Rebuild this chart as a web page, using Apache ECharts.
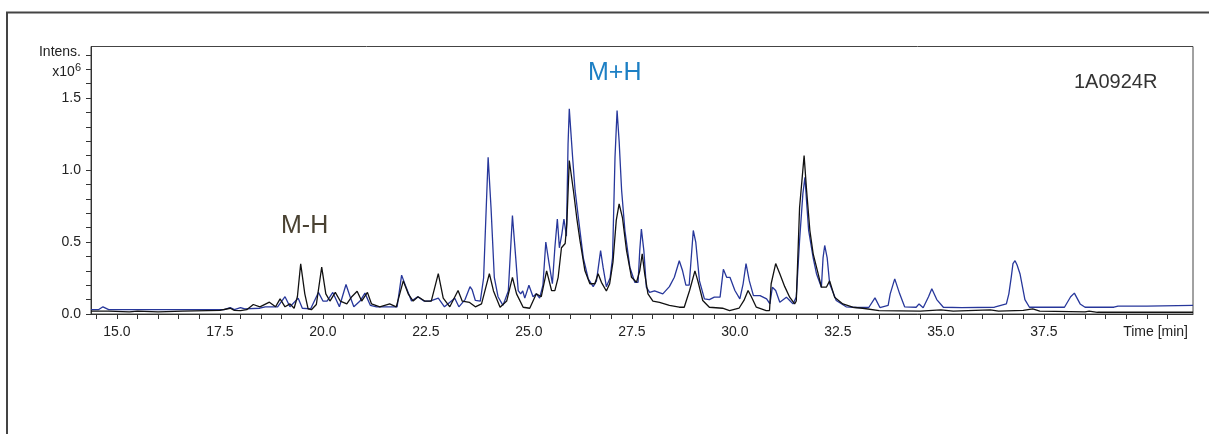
<!DOCTYPE html>
<html lang="en">
<head>
<meta charset="UTF-8">
<title>1A0924R</title>
<script src="https://cdn.jsdelivr.net/npm/echarts@6/dist/echarts.min.js"></script>
<style>
html, body { margin: 0; padding: 0; background: #fff; }
#main { width: 1209px; height: 434px; }
</style>
</head>
<body>
<div id="main"></div>
<script>
// M+H trace (blue): [time min, intensity x10^6]
var mphTrace = [
	[14.37,0.03],[14.55,0.03],[14.66,0.05],[14.8,0.03],[15.5,0.03],[16.5,0.03],[17.6,0.03],[17.75,0.045],
	[17.85,0.03],[18.0,0.045],[18.1,0.035],[18.47,0.04],[18.6,0.05],[18.9,0.05],[19.08,0.12],[19.2,0.05],
	[19.4,0.11],[19.5,0.04],[19.7,0.035],[19.89,0.15],[20.0,0.09],[20.1,0.09],[20.24,0.15],[20.4,0.05],
	[20.56,0.205],[20.66,0.12],[20.75,0.05],[20.9,0.09],[21.02,0.145],[21.15,0.06],[21.3,0.05],[21.6,0.05],
	[21.8,0.05],[21.91,0.27],[22.0,0.2],[22.15,0.09],[22.3,0.12],[22.45,0.09],[22.6,0.09],[22.8,0.11],
	[22.95,0.05],[23.2,0.11],[23.3,0.05],[23.45,0.1],[23.57,0.19],[23.62,0.17],[23.7,0.094],[23.82,0.09],
	[23.9,0.25],[24.01,1.089],[24.08,0.74],[24.16,0.255],[24.25,0.12],[24.37,0.06],[24.5,0.16],[24.6,0.684],
	[24.68,0.39],[24.74,0.163],[24.8,0.14],[24.85,0.16],[24.9,0.11],[25.0,0.2],[25.1,0.12],[25.18,0.14],
	[25.26,0.11],[25.34,0.2],[25.41,0.5],[25.49,0.35],[25.57,0.21],[25.63,0.46],[25.69,0.66],[25.74,0.46],
	[25.8,0.557],[25.85,0.66],[25.91,0.54],[25.95,1.18],[25.98,1.425],[26.01,1.437],[26.06,1.09],[26.12,0.86],
	[26.2,0.67],[26.32,0.39],[26.44,0.245],[26.56,0.19],[26.64,0.23],[26.74,0.44],[26.8,0.325],[26.88,0.19],
	[26.97,0.25],[27.03,0.39],[27.09,1.09],[27.14,1.413],[27.19,1.2],[27.25,0.86],[27.33,0.58],[27.45,0.325],
	[27.57,0.22],[27.65,0.22],[27.69,0.44],[27.73,0.59],[27.79,0.44],[27.85,0.186],[27.93,0.15],[28.05,0.16],
	[28.25,0.14],[28.41,0.19],[28.53,0.255],[28.65,0.37],[28.73,0.3],[28.81,0.2],[28.89,0.2],[28.99,0.58],
	[29.05,0.5],[29.14,0.23],[29.26,0.105],[29.38,0.1],[29.5,0.117],[29.64,0.117],[29.72,0.31],[29.8,0.255],
	[29.88,0.255],[30.0,0.163],[30.12,0.105],[30.2,0.21],[30.27,0.35],[30.35,0.23],[30.45,0.128],[30.61,0.128],
	[30.77,0.105],[30.85,0.07],[30.91,0.186],[30.99,0.163],[31.09,0.082],[31.25,0.117],[31.33,0.094],[31.41,0.07],
	[31.49,0.117],[31.57,0.51],[31.65,0.835],[31.7,0.95],[31.75,0.74],[31.79,0.58],[31.83,0.58],[31.9,0.39],
	[31.98,0.28],[32.1,0.186],[32.14,0.39],[32.18,0.476],[32.24,0.39],[32.3,0.21],[32.46,0.094],[32.7,0.05],
	[32.95,0.045],[33.25,0.045],[33.4,0.112],[33.52,0.045],[33.72,0.06],[33.77,0.14],[33.88,0.244],[34.0,0.14],
	[34.12,0.05],[34.4,0.047],[34.47,0.07],[34.57,0.044],[34.7,0.12],[34.78,0.175],[34.9,0.1],[35.06,0.047],
	[35.5,0.044],[36.3,0.047],[36.59,0.07],[36.65,0.14],[36.71,0.26],[36.75,0.35],[36.8,0.37],[36.85,0.34],
	[36.92,0.28],[37.04,0.1],[37.15,0.047],[38.0,0.047],[38.15,0.12],[38.24,0.145],[38.38,0.07],[38.5,0.047],
	[39.2,0.047],[39.3,0.055],[40.0,0.055],[41.12,0.06]
];

// M-H trace (black)
var mmhTrace = [
	[14.37,0.02],[14.8,0.02],[15.3,0.015],[15.5,0.02],[16.0,0.015],[16.6,0.02],[17.5,0.025],[17.75,0.04],
	[17.85,0.025],[18.0,0.024],[18.15,0.03],[18.31,0.066],[18.47,0.05],[18.7,0.082],[18.85,0.05],[18.96,0.105],
	[19.08,0.05],[19.2,0.07],[19.3,0.04],[19.38,0.12],[19.46,0.349],[19.56,0.14],[19.64,0.036],[19.72,0.03],
	[19.84,0.066],[19.97,0.325],[20.07,0.14],[20.17,0.09],[20.3,0.15],[20.42,0.09],[20.58,0.07],[20.7,0.12],
	[20.83,0.158],[20.94,0.09],[21.08,0.15],[21.18,0.07],[21.38,0.05],[21.62,0.07],[21.78,0.05],[21.95,0.23],
	[22.07,0.14],[22.19,0.09],[22.31,0.12],[22.47,0.09],[22.63,0.09],[22.8,0.28],[22.92,0.11],[23.08,0.05],
	[23.28,0.163],[23.38,0.09],[23.56,0.08],[23.7,0.05],[23.85,0.07],[24.04,0.28],[24.14,0.16],[24.3,0.047],
	[24.46,0.09],[24.6,0.255],[24.7,0.14],[24.86,0.047],[25.02,0.04],[25.18,0.14],[25.3,0.12],[25.43,0.3],
	[25.55,0.163],[25.63,0.163],[25.71,0.255],[25.79,0.46],[25.88,0.49],[25.92,0.626],[25.98,1.066],[26.0,1.078],
	[26.08,0.858],[26.16,0.67],[26.24,0.51],[26.36,0.3],[26.48,0.21],[26.6,0.21],[26.68,0.28],[26.76,0.22],
	[26.88,0.16],[26.96,0.21],[27.04,0.36],[27.12,0.65],[27.19,0.765],[27.27,0.67],[27.37,0.44],[27.49,0.255],
	[27.61,0.22],[27.69,0.3],[27.75,0.418],[27.81,0.28],[27.89,0.14],[28.01,0.09],[28.17,0.08],[28.41,0.06],
	[28.65,0.047],[28.77,0.047],[28.9,0.163],[29.03,0.3],[29.1,0.23],[29.22,0.094],[29.38,0.047],[29.7,0.04],
	[29.87,0.024],[30.1,0.04],[30.22,0.094],[30.32,0.163],[30.4,0.12],[30.52,0.047],[30.76,0.024],[30.84,0.024],
	[30.88,0.21],[30.99,0.35],[31.09,0.28],[31.21,0.19],[31.33,0.117],[31.45,0.07],[31.49,0.09],[31.57,0.74],
	[31.68,1.1],[31.74,0.86],[31.82,0.58],[31.9,0.418],[32.02,0.28],[32.1,0.186],[32.22,0.186],[32.3,0.23],
	[32.42,0.117],[32.62,0.07],[32.86,0.047],[33.1,0.04],[33.5,0.024],[34.5,0.02],[35.0,0.028],[35.3,0.02],
	[36.2,0.028],[36.4,0.02],[37.0,0.025],[37.23,0.035],[37.4,0.02],[38.5,0.015],[38.6,0.02],[38.8,0.012],
	[41.12,0.012]
];

// axis ticks and labels
var timeLabels = [15.0, 17.5, 20.0, 22.5, 25.0, 27.5, 30.0, 32.5, 35.0, 37.5];
var timeTicks = [];
for (var t = 14.5; t <= 40.5; t += 0.5) timeTicks.push(t);
var intensTicks = [0.0, 0.1, 0.2, 0.3, 0.4, 0.5, 0.6, 0.7, 0.8, 0.9, 1.0, 1.1, 1.2, 1.3, 1.4, 1.5, 1.6, 1.7, 1.8];
// 1.75 carries the two-line unit caption that sits against the 1.8 / 1.7 ticks
var intensLabels = [0.0, 0.5, 1.0, 1.5, 1.75];

var FONT = '"Liberation Sans", Arial, sans-serif';

var chart = echarts.init(document.getElementById('main'));
chart.setOption({
	animation: false,
	grid: {
		left: 91, right: 16, top: 46.5, bottom: 120,
		show: true, borderColor: '#444', borderWidth: 1
	},
	xAxis: {
		type: 'value',
		min: 14.37,
		max: 41.12,
		axisLine: { lineStyle: { color: '#333', width: 1 } },
		axisTick: { customValues: timeTicks, length: 5, lineStyle: { color: '#333' } },
		axisLabel: {
			customValues: timeLabels,
			margin: 11,
			color: '#222',
			fontSize: 14,
			fontFamily: FONT,
			formatter: function (v) { return v.toFixed(1); }
		},
		splitLine: { show: false }
	},
	yAxis: {
		type: 'value',
		min: 0,
		max: 1.858,
		axisLine: { show: true, lineStyle: { color: '#333', width: 1 } },
		axisTick: { show: true, customValues: intensTicks, length: 5, lineStyle: { color: '#333' } },
		axisLabel: {
			customValues: intensLabels,
			hideOverlap: false,
			showMinLabel: true,
			showMaxLabel: true,
			margin: 10,
			color: '#222',
			fontSize: 14,
			fontFamily: FONT,
			formatter: function (v) {
				if (Math.abs(v - 1.75) < 1e-6) return '{n|Intens.}\n{n|x10}{s|6}';
				return v.toFixed(1);
			},
			rich: {
				n: { fontSize: 14, fontFamily: FONT, color: '#222', lineHeight: 20, align: 'right' },
				s: { fontSize: 11, fontFamily: FONT, color: '#222', lineHeight: 4, padding: [0, 0, 8, 0] }
			}
		},
		splitLine: { show: false }
	},
	series: [
		{
			name: 'M+H',
			type: 'line',
			data: mphTrace,
			showSymbol: false,
			lineStyle: { color: '#27379b', width: 1.3 },
			z: 2
		},
		{
			name: 'M-H',
			type: 'line',
			data: mmhTrace,
			showSymbol: false,
			lineStyle: { color: '#111', width: 1.3 },
			z: 3
		}
	],
	graphic: [
		{
			type: 'polyline',
			shape: { points: [[7, 434], [7, 12.5], [1209, 12.5]] },
			style: { stroke: '#444', lineWidth: 2, fill: null }
		},
		{
			type: 'text', x: 588, y: 73,
			style: { text: 'M+H', fill: '#1c7fc4', font: '25px ' + FONT, align: 'left', verticalAlign: 'middle', textAlign: 'left', textVerticalAlign: 'middle' }
		},
		{
			type: 'text', x: 281, y: 226,
			style: { text: 'M-H', fill: '#4a4232', font: '25px ' + FONT, align: 'left', verticalAlign: 'middle', textAlign: 'left', textVerticalAlign: 'middle' }
		},
		{
			type: 'text', x: 1074, y: 82,
			style: { text: '1A0924R', fill: '#333', font: '20px ' + FONT, align: 'left', verticalAlign: 'middle', textAlign: 'left', textVerticalAlign: 'middle' }
		},
		{
			type: 'text', x: 1188, y: 332,
			style: { text: 'Time [min]', fill: '#222', font: '14px ' + FONT, align: 'right', verticalAlign: 'middle', textAlign: 'right', textVerticalAlign: 'middle' }
		}
	]
});
</script>
</body>
</html>
